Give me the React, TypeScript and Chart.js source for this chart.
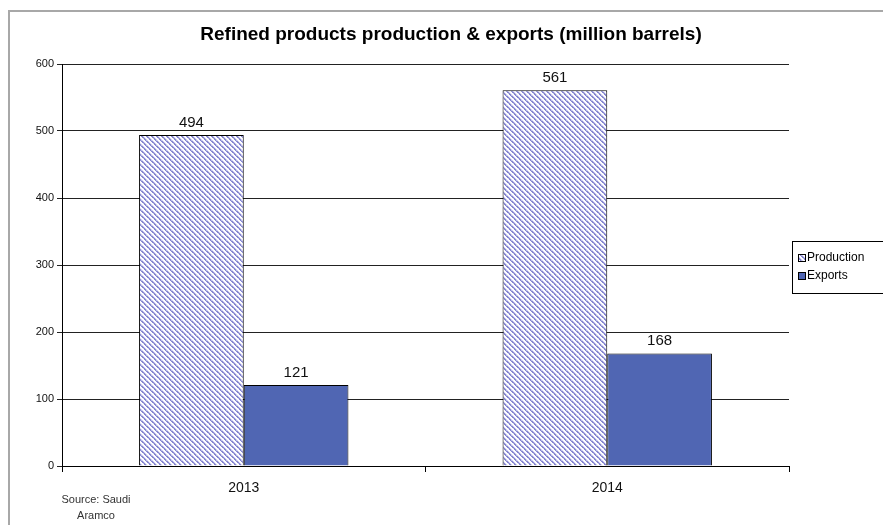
import React, { useEffect, useRef } from "react";
import { Chart, registerables } from "chart.js";

Chart.register(...registerables);

const categories = ["2013", "2014"];
const production = [494, 561];
const exportsData = [121, 168];
const seriesNames = ["Production", "Exports"];
const titleText = "Refined products production & exports (million barrels)";
const sourceLines = ["Source: Saudi", "Aramco"];

function makePattern(): CanvasPattern | string {
  const c = document.createElement("canvas");
  c.width = 10;
  c.height = 10;
  const ctx = c.getContext("2d");
  if (!ctx) return "#9a9ad8";
  ctx.fillStyle = "#ffffff";
  ctx.fillRect(0, 0, 10, 10);
  for (let y = 0; y < 10; y++) {
    for (let x = 0; x < 10; x++) {
      const d = (x - y + 20) % 5;
      if (d < 2) {
        ctx.fillStyle = (x + y) % 5 === 0 ? "#b4b4e6" : "#8686d0";
        ctx.fillRect(x, y, 1, 1);
      } else if (d === 2) {
        ctx.fillStyle = "#d6d6f2";
        ctx.fillRect(x, y, 1, 1);
      }
    }
  }
  const p = ctx.createPattern(c, "repeat");
  return p || "#9a9ad8";
}

export default function App() {
  const ref = useRef<HTMLCanvasElement>(null);
  useEffect(() => {
    if (!ref.current) return;
    const pattern = makePattern();
    const decor = {
      id: "decor",
      afterDraw(chart: any) {
        const ctx = chart.ctx as CanvasRenderingContext2D;
        ctx.save();
        ctx.strokeStyle = "#a8a8a8";
        ctx.lineWidth = 2;
        ctx.beginPath();
        ctx.moveTo(1, 600);
        ctx.lineTo(1, 3);
        ctx.lineTo(900, 3);
        ctx.stroke();
        ctx.fillStyle = "#000";
        ctx.font = "bold 19px 'Liberation Sans', Arial, sans-serif";
        ctx.textAlign = "center";
        ctx.textBaseline = "middle";
        ctx.fillText(titleText, 443, 27);
        ctx.font = "15px 'Liberation Sans', Arial, sans-serif";
        ctx.fillStyle = "#111";
        ctx.textBaseline = "bottom";
        chart.data.datasets.forEach((ds: any, i: number) => {
          const meta = chart.getDatasetMeta(i);
          meta.data.forEach((bar: any, j: number) => {
            ctx.fillText(String(ds.data[j]), bar.x, bar.y - 5);
          });
        });
        const lx = 784, ly = 233, lw = 96, lh = 52;
        ctx.strokeStyle = "#000";
        ctx.lineWidth = 1;
        ctx.fillStyle = "#fff";
        ctx.fillRect(lx + 0.5, ly + 0.5, lw, lh);
        ctx.strokeRect(lx + 0.5, ly + 0.5, lw, lh);
        const fills: any[] = [pattern, "#5066b3"];
        ctx.font = "12px 'Liberation Sans', Arial, sans-serif";
        ctx.textAlign = "left";
        ctx.textBaseline = "middle";
        seriesNames.forEach((n, i) => {
          const y = ly + 17 + i * 18;
          ctx.fillStyle = fills[i];
          ctx.fillRect(lx + 6.5, y - 3.5, 7, 7);
          ctx.strokeStyle = "#000";
          ctx.strokeRect(lx + 6.5, y - 3.5, 7, 7);
          ctx.fillStyle = "#000";
          ctx.fillText(n, lx + 15, y);
        });
        ctx.fillStyle = "#333";
        ctx.font = "11px 'Liberation Sans', Arial, sans-serif";
        ctx.textAlign = "center";
        sourceLines.forEach((s, i) => {
          ctx.fillText(s, 88, 492 + i * 16);
        });
        ctx.restore();
      },
    };
    const chart = new Chart(ref.current, {
      type: "bar",
      data: {
        labels: categories,
        datasets: [
          {
            label: seriesNames[0],
            data: production,
            backgroundColor: pattern as any,
            borderColor: "#000",
            borderWidth: 1,
            categoryPercentage: 0.576,
            barPercentage: 1,
          },
          {
            label: seriesNames[1],
            data: exportsData,
            backgroundColor: "#5066b3",
            borderColor: "#000",
            borderWidth: 1,
            categoryPercentage: 0.576,
            barPercentage: 1,
          },
        ],
      },
      options: {
        animation: false,
        responsive: false,
        layout: { padding: { top: 56, right: 102, left: 0, bottom: 0 } },
        plugins: {
          legend: { display: false },
          title: { display: false },
          tooltip: { enabled: false },
        },
        scales: {
          x: {
            grid: {
              offset: true,
              drawOnChartArea: false,
              color: "#000",
              tickLength: 6,
            },
            border: { color: "#000" },
            ticks: {
              color: "#111",
              font: { size: 14, family: "'Liberation Sans', Arial, sans-serif" },
              padding: 8,
            },
            afterFit(scale: any) {
              scale.height = 59;
            },
          },
          y: {
            min: 0,
            max: 600,
            ticks: {
              stepSize: 100,
              color: "#111",
              padding: 3,
              font: { size: 11, family: "'Liberation Sans', Arial, sans-serif" },
            },
            grid: { color: "#222", tickLength: 5 },
            border: { color: "#000" },
            afterFit(scale: any) {
              scale.width = 54;
            },
          },
        },
      },
      plugins: [decor],
    });
    return () => chart.destroy();
  }, []);
  return <canvas ref={ref} width={883} height={517} style={{ display: "block" }} />;
}
